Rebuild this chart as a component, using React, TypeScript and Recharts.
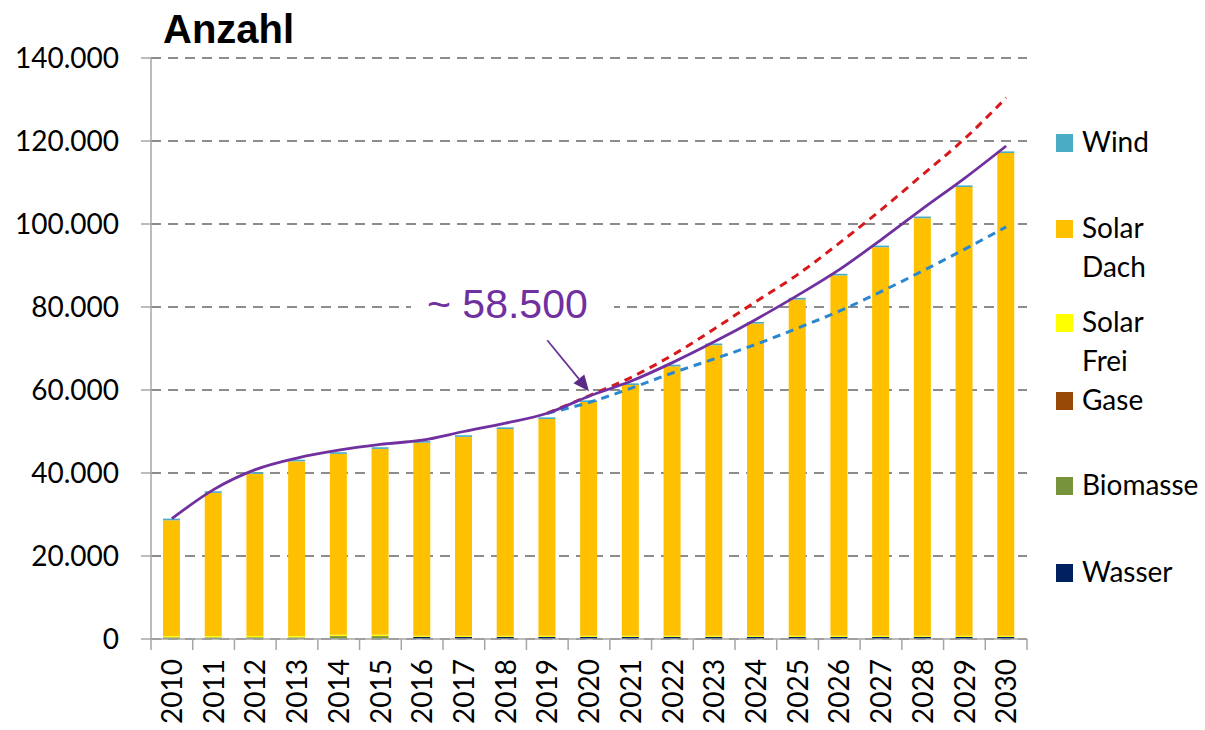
import React from 'react';
import { ComposedChart, Bar, Line, XAxis, YAxis, CartesianGrid, ReferenceLine } from 'recharts';

const years = ['2010','2011','2012','2013','2014','2015','2016','2017','2018','2019','2020','2021','2022','2023','2024','2025','2026','2027','2028','2029','2030'];
const wasser = [0,0,0,0,0,0,500,500,500,500,500,500,500,500,500,500,500,500,500,500,500];
const biomasse = [400,400,400,400,700,700,0,0,0,0,0,0,0,0,0,0,0,0,0,0,0];
const gase = [0,0,0,0,0,0,0,0,0,0,0,0,0,0,0,0,0,0,0,0,0];
const solarFrei = [300,300,300,300,300,300,300,300,300,300,300,300,300,300,300,300,300,300,300,300,300];
const solarDach = [27900,34500,39100,42100,43600,44800,46500,47900,49800,52200,56300,60400,64900,70000,75200,81000,86800,93600,100600,108100,116300];
const wind = [400,400,400,400,400,400,400,400,400,400,400,400,400,400,400,400,400,400,400,400,400];
const gesamt = [29000,36000,40800,43600,45500,46900,47900,50000,52000,54400,58500,62100,66600,71600,77000,82800,89000,96200,103700,111000,118800];
const hoch = [null,null,null,null,null,null,null,null,null,54400,58600,63000,68400,74700,81300,87800,95400,103400,111900,120500,130400];
const niedrig = [null,null,null,null,null,null,null,null,null,54400,57000,60400,64100,67500,71000,74900,79000,83700,88700,93900,99300];
const yTicks = [0,20000,40000,60000,80000,100000,120000,140000];

const legendItems = [
  { name: 'Wind', lines: ['Wind'], color: '#4BACC6', top: 134 },
  { name: 'Solar Dach', lines: ['Solar', 'Dach'], color: '#FFC000', top: 220 },
  { name: 'Solar Frei', lines: ['Solar', 'Frei'], color: '#FFFF00', top: 314 },
  { name: 'Gase', lines: ['Gase'], color: '#984807', top: 392 },
  { name: 'Biomasse', lines: ['Biomasse'], color: '#77933C', top: 477 },
  { name: 'Wasser', lines: ['Wasser'], color: '#002060', top: 564 },
];

const data = years.map((y, i) => ({
  year: y,
  wasser: wasser[i],
  biomasse: biomasse[i],
  gase: gase[i],
  solarFrei: solarFrei[i],
  solarDach: solarDach[i],
  wind: wind[i],
  gesamt: gesamt[i],
  hoch: hoch[i],
  niedrig: niedrig[i],
}));

const fmt = (n: number) => (n === 0 ? '0' : String(n).replace(/\B(?=(\d{3})+(?!\d))/g, '.'));

const PLOT_LEFT = 151;
const PLOT_RIGHT = 1027;
const STEP = (PLOT_RIGHT - PLOT_LEFT) / years.length;
const FONT = 'Lato, "Noto Sans", sans-serif';

const XTick = (props: any) => {
  const { x, y, payload, index } = props;
  const half = STEP / 2;
  return (
    <g>
      <line x1={x - half} x2={x - half} y1={y} y2={y + 11} stroke="#a6a6a6" strokeWidth={1.5} />
      {index === years.length - 1 && (
        <line x1={x + half} x2={x + half} y1={y} y2={y + 11} stroke="#a6a6a6" strokeWidth={1.5} />
      )}
      <text
        x={x}
        y={y + 20}
        transform={`rotate(-90, ${x}, ${y + 20})`}
        textAnchor="end"
        dy="0.36em"
        fontSize={28}
        fontFamily={FONT}
        fill="#000"
      >
        {payload.value}
      </text>
    </g>
  );
};

const ArrowShape = (props: any) => {
  const { x1, y1, x2, y2 } = props;
  if ([x1, y1, x2, y2].some((v) => typeof v !== 'number' || isNaN(v))) return null;
  const dx = x2 - x1;
  const dy = y2 - y1;
  const len = Math.sqrt(dx * dx + dy * dy);
  const ux = dx / len;
  const uy = dy / len;
  const headLen = 16;
  const headW = 7;
  const bx = x2 - ux * headLen;
  const by = y2 - uy * headLen;
  const px = -uy;
  const py = ux;
  return (
    <g>
      <line x1={x1} y1={y1} x2={bx} y2={by} stroke="#6A3597" strokeWidth={1.8} />
      <polygon
        points={`${x2},${y2} ${bx + px * headW},${by + py * headW} ${bx - px * headW},${by - py * headW}`}
        fill="#5B2A86"
      />
    </g>
  );
};

export default function App() {
  return (
    <div style={{ position: 'absolute', left: 0, top: 0, width: 1205, height: 730, background: '#fff' }}>
      <ComposedChart
        width={1205}
        height={730}
        data={data}
        margin={{ top: 58, right: 1205 - PLOT_RIGHT, bottom: 6, left: 11 }}
        barSize={17}
      >
        <CartesianGrid vertical={false} stroke="#8c8c8c" strokeWidth={2} strokeDasharray="10 7" />
        <XAxis
          dataKey="year"
          height={85}
          tickSize={0}
          tickMargin={0}
          tickLine={false}
          axisLine={{ stroke: '#a6a6a6', strokeWidth: 1.5 }}
          tick={<XTick />}
          interval={0}
        />
        <YAxis
          width={140}
          domain={[0, 140000]}
          ticks={yTicks}
          interval={0}
          tickFormatter={fmt}
          tickSize={10}
          tickMargin={22}
          axisLine={{ stroke: '#a6a6a6', strokeWidth: 1.5 }}
          tickLine={{ stroke: '#a6a6a6', strokeWidth: 1.5 }}
          tick={{ fontSize: 28, fontFamily: FONT, fill: '#000' }}
        />
        <Bar dataKey="wasser" stackId="a" fill="#002060" isAnimationActive={false} />
        <Bar dataKey="biomasse" stackId="a" fill="#77933C" isAnimationActive={false} />
        <Bar dataKey="gase" stackId="a" fill="#984807" isAnimationActive={false} />
        <Bar dataKey="solarFrei" stackId="a" fill="#FFFF00" isAnimationActive={false} />
        <Bar dataKey="solarDach" stackId="a" fill="#FFC000" isAnimationActive={false} />
        <Bar dataKey="wind" stackId="a" fill="#4BACC6" isAnimationActive={false} />
        <Line type="monotone" dataKey="hoch" stroke="#D7191C" strokeWidth={3} strokeDasharray="8 6" dot={false} isAnimationActive={false} connectNulls={false} />
        <Line type="monotone" dataKey="niedrig" stroke="#2A87D0" strokeWidth={3} strokeDasharray="8 6" dot={false} isAnimationActive={false} connectNulls={false} />
        <Line type="monotone" dataKey="gesamt" stroke="#7030A0" strokeWidth={2.8} dot={false} isAnimationActive={false} />
        <ReferenceLine
          segment={[{ x: '2019', y: 72000 }, { x: '2020', y: 59700 }]}
          shape={<ArrowShape />}
          ifOverflow="visible"
        />
      </ComposedChart>
      <svg width={1205} height={730} style={{ position: 'absolute', left: 0, top: 0, pointerEvents: 'none' }}>
        <text x={163} y={43} fontSize={40} fontWeight="bold" fontFamily='"Liberation Sans", Arial, sans-serif' fill="#000">
          Anzahl
        </text>
        <rect x={411} y={280} width={203} height={46} fill="#fff" />
        <text x={427} y={318} fontSize={41} fontFamily='"Liberation Sans", Arial, sans-serif' fill="#7030A0">
          ~ 58.500
        </text>
        {legendItems.map((it) => (
          <g key={it.name}>
            <rect x={1056} y={it.top} width={17} height={18} fill={it.color} />
            {it.lines.map((ln, j) => (
              <text key={j} x={1082} y={it.top + 18 + j * 39} fontSize={28} fontFamily={FONT} fill="#000">
                {ln}
              </text>
            ))}
          </g>
        ))}
      </svg>
    </div>
  );
}
